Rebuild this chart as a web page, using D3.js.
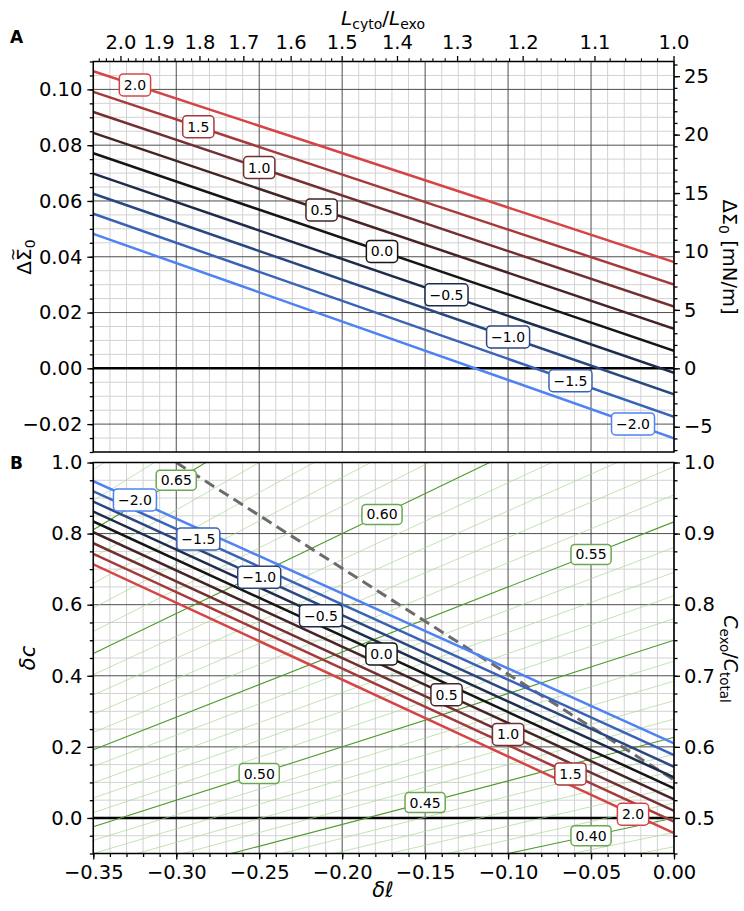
<!DOCTYPE html>
<html><head><meta charset="utf-8">
<script src="https://cdn.jsdelivr.net/npm/d3@7"></script>
<style>body{margin:0;background:#fff}</style>
</head><body><svg id="c" width="744" height="911" xmlns="http://www.w3.org/2000/svg"></svg>
<script>
// ---------------- DATA ----------------
const levels      = [-2.0, -1.5, -1.0, -0.5, 0.0, 0.5, 1.0, 1.5, 2.0];
const levelColors = ["#4f82f2", "#3a63b8", "#2b4780", "#1d2c4a", "#151515", "#442424", "#743030", "#a63a3a", "#d64545"];
// Panel A: dimensionless tension jump at δℓ = -0.35 and δℓ = 0
const sigmaLeft   = [0.0482, 0.0554, 0.0626, 0.0698, 0.0771, 0.0844, 0.0919, 0.0991, 0.1065];
const sigmaRight  = [-0.0251, -0.0174, -0.0093, -0.0016, 0.0063, 0.0142, 0.0221, 0.0300, 0.0381];
const labelDlA    = [-0.0247, -0.0624, -0.100, -0.1371, -0.176, -0.2124, -0.250, -0.2867, -0.3249];
// Panel B: δc at δℓ = -0.35 and δℓ = 0
const dcLeft      = [0.9475, 0.919, 0.890, 0.862, 0.834, 0.804, 0.773, 0.743, 0.7135];
const dcRight     = [0.2098, 0.177, 0.144, 0.114, 0.0833, 0.0524, 0.0197, -0.0103, -0.043];
const labelDlB    = [-0.3249, -0.2867, -0.250, -0.2128, -0.1763, -0.1371, -0.100, -0.0624, -0.0247];
// green contours: level, δc at δℓ=-0.35, δc at δℓ=0
const greenLevels = [0.38,0.39,0.40,0.41,0.42,0.43,0.44,0.45,0.46,0.47,0.48,0.49,0.50,0.51,0.52,0.53,0.54,0.55,0.56,0.57,0.58,0.59,0.60,0.61,0.62,0.63,0.64,0.65,0.66,0.67];
const greenLeft   = [-0.402,-0.377,-0.350,-0.322,-0.294,-0.264,-0.234,-0.202,-0.169,-0.135,-0.100,-0.063,-0.025,0.015,0.056,0.099,0.145,0.192,0.241,0.292,0.346,0.403,0.4625,0.525,0.591,0.660,0.733,0.811,0.893,0.980];
const greenRight  = [-0.081,-0.041,0.000,0.042,0.086,0.132,0.179,0.227,0.278,0.330,0.385,0.441,0.500,0.561,0.625,0.691,0.761,0.833,0.909,0.988,1.071,1.159,1.250,1.346,1.447,1.554,1.667,1.786,1.912,2.045];
const greenLabelLevels = [0.40, 0.45, 0.50, 0.55, 0.60, 0.65];
const greenLabelDl     = [-0.05, -0.15, -0.25, -0.05, -0.176, -0.30];
// dashed boundary
const dashedDl = [-0.30, 0.0];
const dashedDc = [1.0, 0.107];
// axes ticks
const xTicks      = [-0.35, -0.30, -0.25, -0.20, -0.15, -0.10, -0.05, 0.00];
const yATicks     = [-0.02, 0.00, 0.02, 0.04, 0.06, 0.08, 0.10];
const yArTicks    = [-5, 0, 5, 10, 15, 20, 25];
const topTicks    = [2.0, 1.9, 1.8, 1.7, 1.6, 1.5, 1.4, 1.3, 1.2, 1.1, 1.0];
const yBTicks     = [0.0, 0.2, 0.4, 0.6, 0.8, 1.0];
const yBrLabels   = ["0.5", "0.6", "0.7", "0.8", "0.9", "1.0"];
const mNperUnit   = 238.7; // ΔΣ0 [mN/m] per unit of ΔΣ̃0

// ---------------- LAYOUT ----------------
const FONT = "DejaVu Sans";
const L = 93.3, R = 674;
const A_TOP = 61.5, A_BOT = 452, B_TOP = 462.5, B_BOT = 853.5;
const svg = d3.select("#c");
svg.append("rect").attr("width", 744).attr("height", 911).attr("fill", "#fff");

const x   = d3.scaleLinear().domain([-0.35, 0]).range([L, R]);
const yA  = d3.scaleLinear().domain([-0.03, 0.11]).range([A_BOT, A_TOP]);
const yAr = d3.scaleLinear().domain([-0.03 * mNperUnit, 0.11 * mNperUnit]).range([A_BOT, A_TOP]);
const yB  = d3.scaleLinear().domain([-0.1, 1.0]).range([B_BOT, B_TOP]);
const xTop = L0 => x((1 - L0) / (1 + L0));
const fmt = (v, d) => { const s = Math.abs(v).toFixed(d); return (v < -1e-9 ? "\u2212" : "") + s; };

const defs = svg.append("defs");
defs.append("clipPath").attr("id", "clipA").append("rect").attr("x", L).attr("y", A_TOP).attr("width", R - L).attr("height", A_BOT - A_TOP);
defs.append("clipPath").attr("id", "clipB").append("rect").attr("x", L).attr("y", B_TOP).attr("width", R - L).attr("height", B_BOT - B_TOP);

function grid(g, y, yMin, yStepMinor, nY, majorStep, top, bot) {
  const minorG = g.append("g"), majorG = g.append("g");
  for (let i = 0; i <= 35; i++) {
    const v = -0.35 + i * 0.01;
    const major = i % 5 === 0;
    (major ? majorG : minorG).append("line").attr("x1", x(v)).attr("x2", x(v)).attr("y1", top).attr("y2", bot)
      .attr("stroke", major ? "#3a3a3a" : "#d2d2d2").attr("stroke-width", major ? 0.9 : 1);
  }
  for (let j = 0; j <= nY; j++) {
    const v = yMin + j * yStepMinor;
    const r = Math.round(v / yStepMinor);
    const major = Math.abs(r % Math.round(majorStep / yStepMinor)) === 0;
    (major ? majorG : minorG).append("line").attr("x1", L).attr("x2", R).attr("y1", y(v)).attr("y2", y(v))
      .attr("stroke", major ? "#3a3a3a" : "#d2d2d2").attr("stroke-width", major ? 0.9 : 1);
  }
}

function styleAxis(g, size) {
  g.attr("font-family", FONT).attr("font-size", size);
  g.selectAll(".domain").remove();
  g.selectAll(".tick line").attr("stroke", "#000").attr("stroke-width", 1.3);
  g.selectAll(".tick text").attr("fill", "#000");
}

function labelBox(g, cx, cy, text, color, h) {
  const grp = g.append("g");
  const rect = grp.append("rect");
  const t = grp.append("text").attr("x", cx).attr("y", cy).attr("text-anchor", "middle")
    .attr("dominant-baseline", "central").attr("font-family", FONT).attr("font-size", 14)
    .attr("fill", "#000").text(text);
  const w = t.node().getComputedTextLength() + 9;
  rect.attr("x", cx - w / 2).attr("y", cy - h / 2).attr("width", w).attr("height", h)
    .attr("rx", 4).attr("fill", "#fff").attr("stroke", color).attr("stroke-width", 1.5);
}
const interp = (l, r, dl) => l + (dl + 0.35) / 0.35 * (r - l);

// ================= PANEL A =================
const gA = svg.append("g");
grid(gA.append("g"), yA, -0.03, 0.005, 28, 0.02, A_TOP, A_BOT);
const plotA = gA.append("g").attr("clip-path", "url(#clipA)");
plotA.append("line").attr("x1", L).attr("x2", R).attr("y1", yA(0)).attr("y2", yA(0)).attr("stroke", "#000").attr("stroke-width", 2.6);
const line = d3.line();
levels.forEach((lv, i) => {
  plotA.append("path").attr("d", line([[x(-0.35), yA(sigmaLeft[i])], [x(0), yA(sigmaRight[i])]]))
    .attr("stroke", levelColors[i]).attr("stroke-width", 2.5).attr("fill", "none");
});
levels.forEach((lv, i) => {
  labelBox(gA, x(labelDlA[i]), yA(interp(sigmaLeft[i], sigmaRight[i], labelDlA[i])), fmt(lv, 1), levelColors[i], 22);
});
gA.append("rect").attr("x", L).attr("y", A_TOP).attr("width", R - L).attr("height", A_BOT - A_TOP)
  .attr("fill", "none").attr("stroke", "#000").attr("stroke-width", 1.5);

const axAL = gA.append("g").attr("transform", `translate(${L},0)`)
  .call(d3.axisLeft(yA).tickValues(yATicks).tickFormat(d => fmt(d, 2)).tickSize(6).tickPadding(5).tickSizeOuter(0));
styleAxis(axAL, 19.5);
const axALm = gA.append("g").attr("transform", `translate(${L},0)`)
  .call(d3.axisLeft(yA).tickValues(d3.range(0, 29).map(j => -0.03 + j * 0.005)).tickFormat("").tickSize(3.5).tickSizeOuter(0));
styleAxis(axALm, 10);
const axAR = gA.append("g").attr("transform", `translate(${R},0)`)
  .call(d3.axisRight(yAr).tickValues(yArTicks).tickFormat(d => fmt(d, 0)).tickSize(6).tickPadding(4).tickSizeOuter(0));
styleAxis(axAR, 19.5);
const axARm = gA.append("g").attr("transform", `translate(${R},0)`)
  .call(d3.axisRight(yAr).tickValues(d3.range(-7, 27)).tickFormat("").tickSize(3.5).tickSizeOuter(0));
styleAxis(axARm, 10);
const topG = gA.append("g");
topTicks.forEach(t => {
  topG.append("line").attr("x1", xTop(t)).attr("x2", xTop(t)).attr("y1", A_TOP).attr("y2", A_TOP - 5.5).attr("stroke", "#000").attr("stroke-width", 1.3);
  topG.append("text").attr("x", xTop(t)).attr("y", 48.5).attr("text-anchor", "middle").attr("font-family", FONT).attr("font-size", 19.5).text(t.toFixed(1));
});
d3.range(0, 54).map(k => 1.0 + k * 0.02).filter(t => t <= 2.077 && Math.round(t * 100) % 10 !== 0).forEach(t => {
  topG.append("line").attr("x1", xTop(t)).attr("x2", xTop(t)).attr("y1", A_TOP).attr("y2", A_TOP - 3.2).attr("stroke", "#000").attr("stroke-width", 1.1);
});

// ================= PANEL B =================
const gB = svg.append("g");
grid(gB.append("g"), yB, -0.1, 0.05, 22, 0.2, B_TOP, B_BOT);
const plotB = gB.append("g").attr("clip-path", "url(#clipB)");
plotB.append("line").attr("x1", L).attr("x2", R).attr("y1", yB(0)).attr("y2", yB(0)).attr("stroke", "#000").attr("stroke-width", 2.6);
greenLevels.forEach((lv, i) => {
  const major = Math.round(lv * 100) % 5 === 0;
  plotB.append("path").attr("d", line([[x(-0.35), yB(greenLeft[i])], [x(0), yB(greenRight[i])]]))
    .attr("stroke", major ? "#4f9a2c" : "#abd795").attr("stroke-width", major ? 1.1 : 0.7).attr("fill", "none");
});
plotB.append("path").attr("d", line(dashedDl.map((d, i) => [x(d), yB(dashedDc[i])])))
  .attr("stroke", "#6b6b6b").attr("stroke-width", 3).attr("stroke-dasharray", "11,6").attr("fill", "none");
levels.forEach((lv, i) => {
  plotB.append("path").attr("d", line([[x(-0.35), yB(dcLeft[i])], [x(0), yB(dcRight[i])]]))
    .attr("stroke", levelColors[i]).attr("stroke-width", 2.5).attr("fill", "none");
});
greenLabelLevels.forEach((lv, k) => {
  const i = greenLevels.findIndex(v => Math.abs(v - lv) < 1e-6);
  labelBox(gB, x(greenLabelDl[k]), yB(interp(greenLeft[i], greenRight[i], greenLabelDl[k])), lv.toFixed(2), "#6aa84f", 20);
});
levels.forEach((lv, i) => {
  labelBox(gB, x(labelDlB[i]), yB(interp(dcLeft[i], dcRight[i], labelDlB[i])), fmt(lv, 1), levelColors[i], 22);
});
gB.append("rect").attr("x", L).attr("y", B_TOP).attr("width", R - L).attr("height", B_BOT - B_TOP)
  .attr("fill", "none").attr("stroke", "#000").attr("stroke-width", 1.5);

const axBL = gB.append("g").attr("transform", `translate(${L},0)`)
  .call(d3.axisLeft(yB).tickValues(yBTicks).tickFormat(d => fmt(d, 1)).tickSize(6).tickPadding(5).tickSizeOuter(0));
styleAxis(axBL, 19.5);
const minorB = d3.range(0, 23).map(j => -0.1 + j * 0.05);
const axBLm = gB.append("g").attr("transform", `translate(${L},0)`)
  .call(d3.axisLeft(yB).tickValues(minorB).tickFormat("").tickSize(3.5).tickSizeOuter(0));
styleAxis(axBLm, 10);
const axBR = gB.append("g").attr("transform", `translate(${R},0)`)
  .call(d3.axisRight(yB).tickValues(yBTicks).tickFormat((d, i) => yBrLabels[i]).tickSize(6).tickPadding(4).tickSizeOuter(0));
styleAxis(axBR, 19.5);
const axBRm = gB.append("g").attr("transform", `translate(${R},0)`)
  .call(d3.axisRight(yB).tickValues(minorB).tickFormat("").tickSize(3.5).tickSizeOuter(0));
styleAxis(axBRm, 10);
const axBB = gB.append("g").attr("transform", `translate(0,${B_BOT})`)
  .call(d3.axisBottom(x).tickValues(xTicks).tickFormat(d => fmt(d, 2)).tickSize(6).tickPadding(5.5).tickSizeOuter(0));
styleAxis(axBB, 19.5);
const axBBm = gB.append("g").attr("transform", `translate(0,${B_BOT})`)
  .call(d3.axisBottom(x).tickValues(d3.range(0, 36).map(i => -0.35 + i * 0.01)).tickFormat("").tickSize(3.5).tickSizeOuter(0));
styleAxis(axBBm, 10);

// ================= TEXT LABELS =================
const T = (xx, yy, size, rot) => svg.append("text").attr("font-family", FONT).attr("font-size", size)
  .attr("text-anchor", "middle").attr("transform", `translate(${xx},${yy}) rotate(${rot || 0})`);
svg.append("text").attr("x", 10).attr("y", 43).attr("font-family", FONT).attr("font-weight", "bold").attr("font-size", 17).text("A");
svg.append("text").attr("x", 10).attr("y", 469).attr("font-family", FONT).attr("font-weight", "bold").attr("font-size", 17).text("B");
let t = T(383, 25, 20);
t.append("tspan").attr("font-style", "italic").text("L");
t.append("tspan").attr("font-size", 14).attr("dy", 4).text("cyto");
t.append("tspan").attr("dy", -4).text("/");
t.append("tspan").attr("font-style", "italic").text("L");
t.append("tspan").attr("font-size", 14).attr("dy", 4).text("exo");
t = T(383, 897, 21);
t.append("tspan").attr("font-style", "italic").text("\u03b4\u2113");
// left A label with tilde over Sigma
{
  const g = svg.append("g").attr("transform", "translate(31,257) rotate(-90)");
  const meas = g.append("text").attr("font-family", FONT).attr("font-size", 20).text("\u0394");
  const wD = meas.node().getComputedTextLength();
  meas.text("\u03a3"); const wS = meas.node().getComputedTextLength();
  meas.remove();
  const txt = g.append("text").attr("font-family", FONT).attr("font-size", 20);
  txt.append("tspan").text("\u0394\u03a3");
  txt.append("tspan").attr("font-size", 14).attr("dy", 4).text("0");
  const w = txt.node().getComputedTextLength();
  txt.attr("x", -w / 2);
  g.append("text").attr("font-family", FONT).attr("font-size", 16).attr("text-anchor", "middle")
    .attr("x", -w / 2 + wD + wS / 2).attr("y", -13.5).text("~");
}
t = T(723, 257, 19.5, 90);
t.append("tspan").text("\u0394\u03a3");
t.append("tspan").attr("font-size", 14).attr("dy", 4).text("0");
t.append("tspan").attr("dy", -4).text(" [mN/m]");
t = T(35, 658, 21, -90);
t.append("tspan").attr("font-style", "italic").text("\u03b4c");
t = T(724, 659, 19, 90);
t.append("tspan").attr("font-style", "italic").text("C");
t.append("tspan").attr("font-size", 13.5).attr("dy", 4).text("exo");
t.append("tspan").attr("dy", -4).text("/");
t.append("tspan").attr("font-style", "italic").text("C");
t.append("tspan").attr("font-size", 13.5).attr("dy", 4).text("total");
</script></body></html>
